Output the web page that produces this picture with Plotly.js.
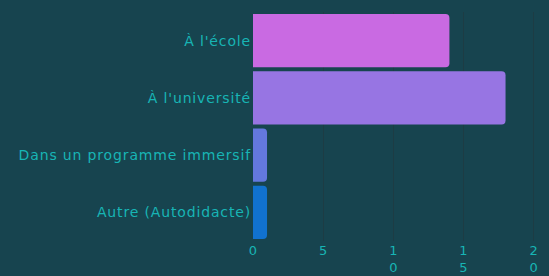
<!DOCTYPE html>
<html><head><meta charset="utf-8">
<script src="https://cdn.plot.ly/plotly-3.0.1.min.js"></script>
<style>html,body{margin:0;padding:0;background:#17444f;}
.ytick text{letter-spacing:0.85px;}
</style>
</head><body>
<div id="chart" style="width:549px;height:276px;"></div>
<script>
const categories = ["À l'école", "À l'université", "Dans un programme immersif", "Autre (Autodidacte)"];
const values = [14, 18, 1, 1];
const barColors = ["#c96ae2", "#9775e3", "#6478de", "#1172cf"];
const tickVals = [0, 5, 10, 15, 20];
const tickText = ["0", "5", "1<br>0", "1<br>5", "2<br>0"];

Plotly.newPlot("chart", [{
  type: "bar",
  orientation: "h",
  y: categories,
  x: values,
  marker: {color: barColors, line: {width: 0}},
  hoverinfo: "none"
}], {
  width: 549, height: 276,
  paper_bgcolor: "#17444f", plot_bgcolor: "#17444f",
  margin: {l: 253, r: 14, t: 12, b: 35},
  bargap: 0.07,
  barcornerradius: 4,
  font: {family: "DejaVu Sans", color: "#17b5b5", size: 13},
  xaxis: {range: [0, 20.1], tickvals: tickVals, ticktext: tickText, showgrid: true,
          gridcolor: "#1d3c44", zeroline: false, showline: false, ticks: "",
          ticklabelstandoff: 0,
          tickfont: {size: 13, color: "#17b5b5"}},
  yaxis: {autorange: "reversed", showgrid: false, zeroline: false, ticks: "", ticklen: 0,
          ticklabelstandoff: 1,
          tickfont: {size: 14, color: "#17b5b5"}},
  showlegend: false
}, {displayModeBar: false, staticPlot: true});
</script>
</body></html>
